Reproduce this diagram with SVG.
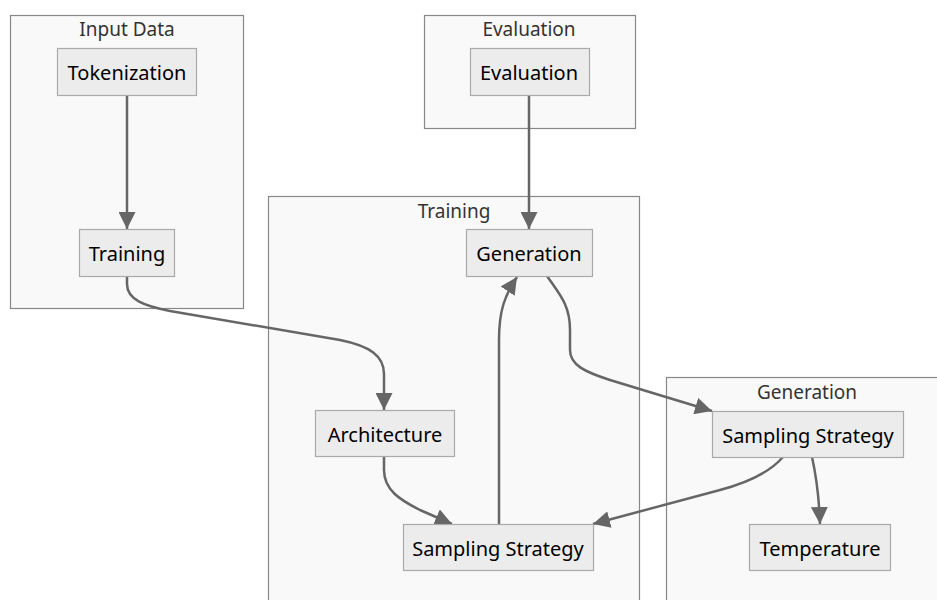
<svg xmlns="http://www.w3.org/2000/svg" width="937" height="600" viewBox="0 0 937 600">
<style>
.cluster{fill:#f9f9f9;stroke:#888;stroke-width:1.2}
.ctitle{font-family:"Noto Sans",sans-serif;font-size:19px;fill:#333;text-anchor:middle}
.node rect{fill:#ececec;stroke:#aaa;stroke-width:1.2}
.node text{font-family:"Noto Sans",sans-serif;font-size:20px;fill:#000;text-anchor:middle;dominant-baseline:central}
.edge{fill:none;stroke:#666;stroke-width:2.5}
</style>
<defs>
<marker id="ah" viewBox="0 0 10 10" refX="10" refY="5" markerWidth="17" markerHeight="17" markerUnits="userSpaceOnUse" orient="auto"><path d="M0,0 L10,5 L0,10 z" fill="#666"/></marker>
</defs>
<g id="clusters">
<g id="cluster-input"><rect class="cluster" x="10.5" y="15.5" width="233" height="293"/><text class="ctitle" x="127" y="36">Input Data</text></g>
<g id="cluster-eval"><rect class="cluster" x="424.5" y="15.5" width="211" height="113"/><text class="ctitle" x="529" y="36">Evaluation</text></g>
<g id="cluster-train"><rect class="cluster" x="268.5" y="196.5" width="371" height="410"/><text class="ctitle" x="454" y="218">Training</text></g>
<g id="cluster-gen"><rect class="cluster" x="666.5" y="377.5" width="280" height="230"/><text class="ctitle" x="807" y="399">Generation</text></g>
</g>
<g id="edges">
<path class="edge" marker-end="url(#ah)" d="M127,95 L127,229"/>
<path class="edge" marker-end="url(#ah)" d="M529,95 L529,229"/>
<path class="edge" marker-end="url(#ah)" d="M127,276 L127,284 C127,300 145,306 170,311 L340,340 C370,346 384,356 384,374 L384,410"/>
<path class="edge" marker-end="url(#ah)" d="M384,457 L384,470 C384,490 400,500 420,510 L452,524"/>
<path class="edge" marker-end="url(#ah)" d="M499,524 L499,340 C499,310 505,295 517,277"/>
<path class="edge" marker-end="url(#ah)" d="M547,276 C560,295 570,305 570,330 L570,350 C570,365 585,372 610,380 L712,411"/>
<path class="edge" marker-end="url(#ah)" d="M783,457 C770,472 750,482 720,490 L593,524"/>
<path class="edge" marker-end="url(#ah)" d="M812,457 C816,475 819,495 820,524"/>
</g>
<g id="node-tokenization" class="node"><rect x="57.5" y="48.5" width="139" height="47"/><text x="127" y="72">Tokenization</text></g>
<g id="node-training" class="node"><rect x="79.5" y="229.5" width="95" height="47"/><text x="127" y="253">Training</text></g>
<g id="node-evaluation" class="node"><rect x="470.5" y="48.5" width="119" height="47"/><text x="529" y="72">Evaluation</text></g>
<g id="node-generation" class="node"><rect x="466.5" y="229.5" width="126" height="47"/><text x="529" y="253">Generation</text></g>
<g id="node-architecture" class="node"><rect x="315.5" y="410.5" width="139" height="46"/><text x="385" y="434">Architecture</text></g>
<g id="node-sampling-train" class="node"><rect x="403.5" y="524.5" width="190" height="46"/><text x="498" y="548">Sampling Strategy</text></g>
<g id="node-sampling-gen" class="node"><rect x="712.5" y="411.5" width="191" height="46"/><text x="808" y="435">Sampling Strategy</text></g>
<g id="node-temperature" class="node"><rect x="749.5" y="524.5" width="141" height="46"/><text x="820" y="548">Temperature</text></g>
</svg>
